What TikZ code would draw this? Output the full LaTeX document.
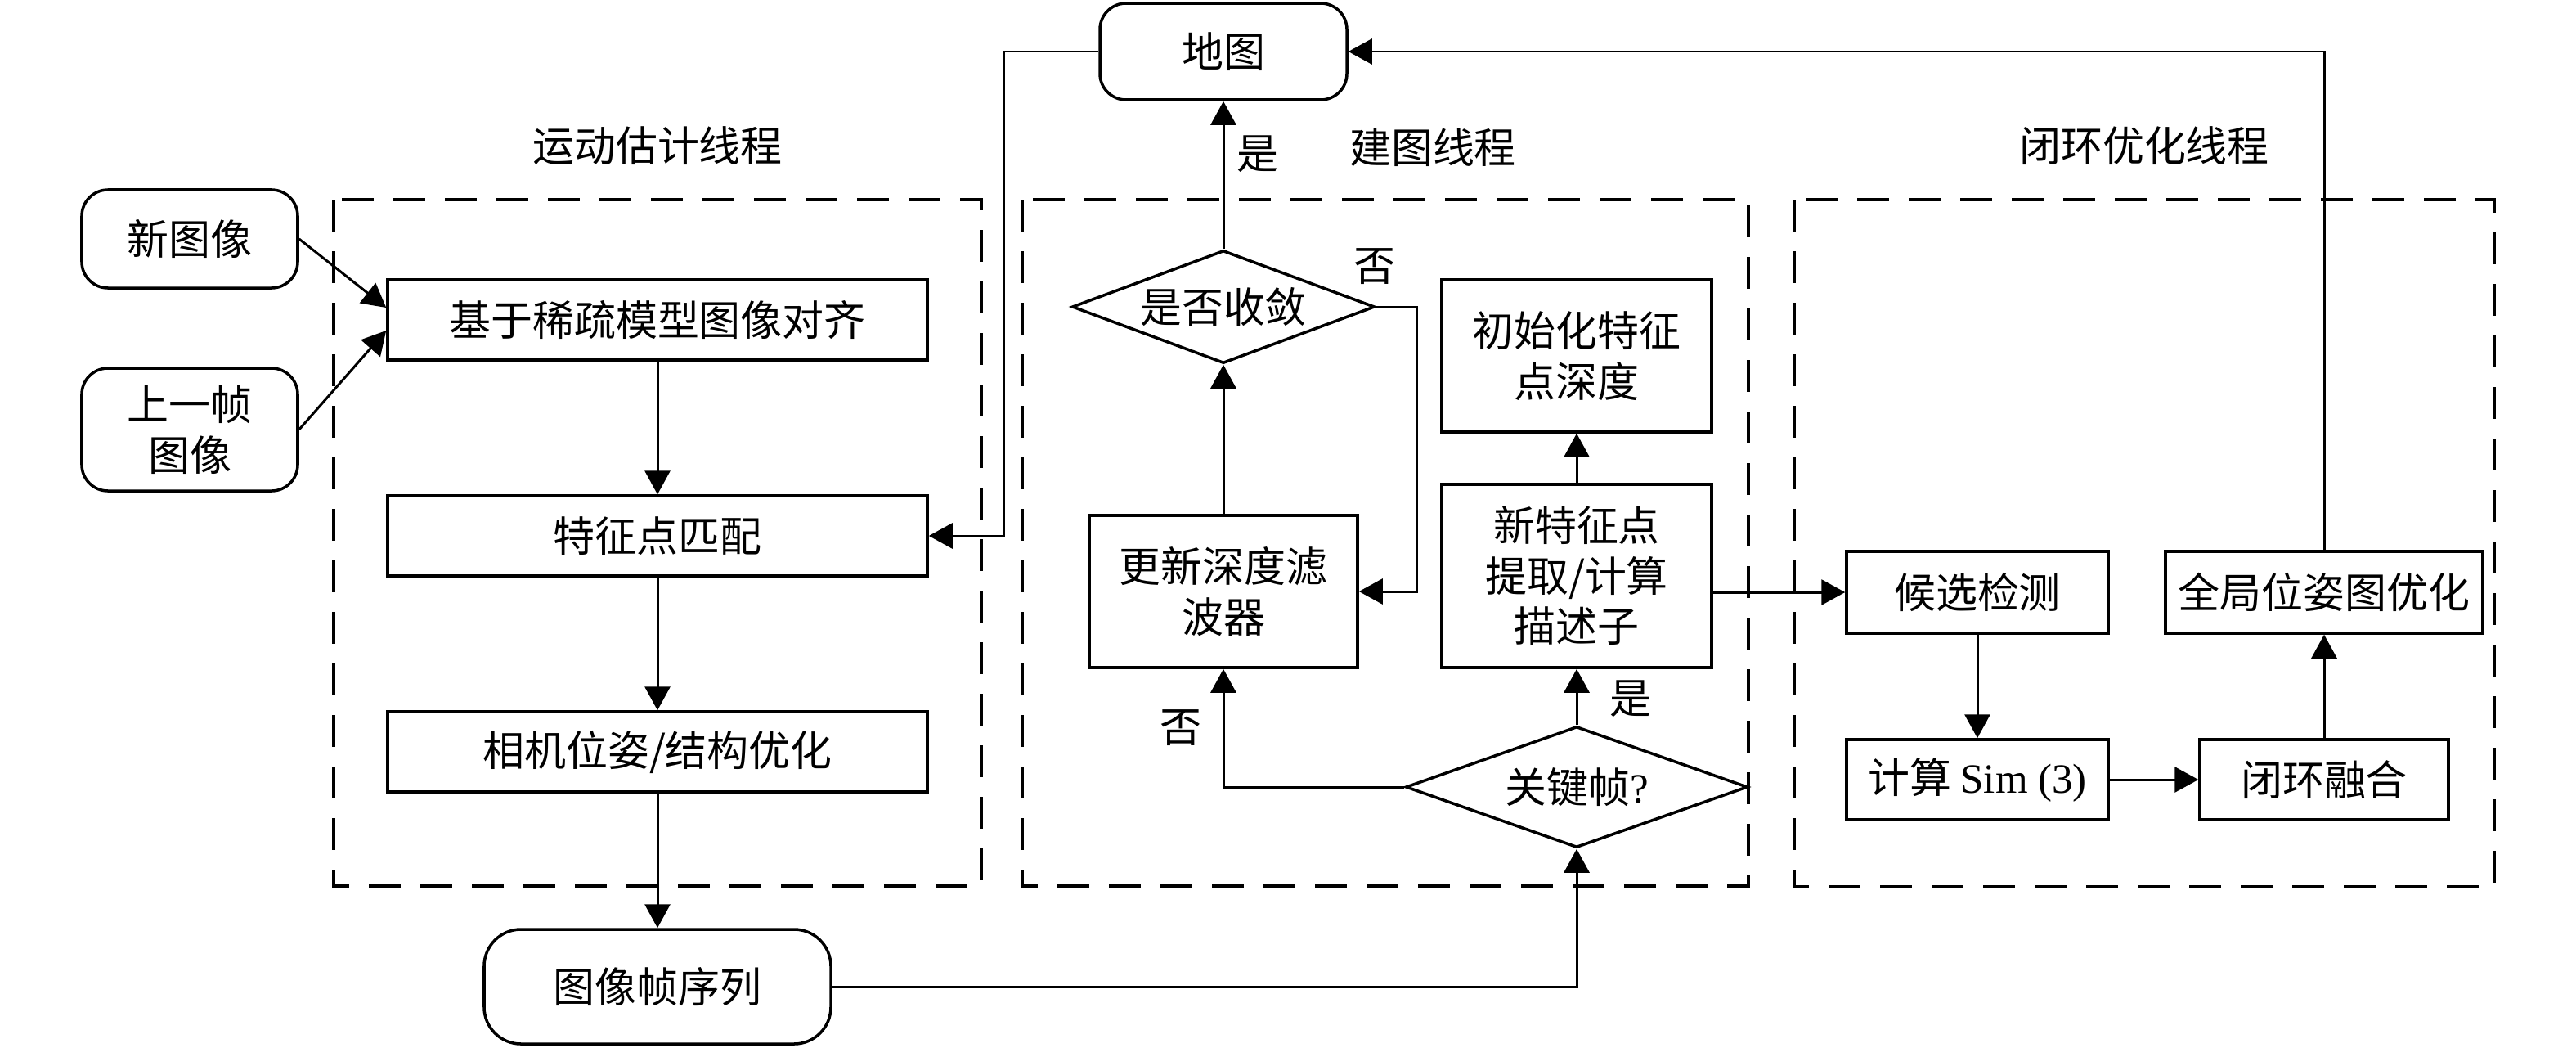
\documentclass[tikz,border=0pt]{standalone}
\usepackage{fontspec}
\setmainfont{Liberation Serif}
\newfontfamily\cjk{Noto Sans CJK SC}
\usetikzlibrary{arrows.meta,shapes.geometric,calc}
\begin{document}
\begin{tikzpicture}[x=0.2mm,y=-0.2mm,
  txt/.style={font={\cjk\fontsize{14.5pt}{17.5pt}\selectfont}, align=center, inner sep=0pt},
  box/.style={txt, draw, line width=1pt, rectangle},
  rbox/.style={box, rounded corners=3.2mm},
  dia/.style={draw, line width=1pt, diamond, inner sep=0pt},
  sz/.style 2 args={minimum width=#1*0.2mm, minimum height=#2*0.2mm},
  arr/.style={line width=0.85pt, -{Triangle[length=2.9mm,width=3.1mm]}},
  dbox/.style={line width=1pt, dash pattern=on 3.9mm off 2.4mm},
  lbl/.style={txt}
]
\useasboundingbox (0,0) rectangle (1575,640);

% thread frames
\draw[dbox] (204,122) rectangle (600,541.5);
\draw[dbox] (625,122) rectangle (1069,541.5);
\draw[dbox] (1097,122) rectangle (1525,542);

% thread titles
\node[lbl] (t1) at (402,89) {运动估计线程};
\node[lbl] (t2) at (876,90) {建图线程};
\node[lbl] (t3) at (1311,89) {闭环优化线程};

% motion estimation
\node[rbox, sz={132}{60}] (new) at (116,146) {新图像};
\node[rbox, sz={132}{75}] (prev) at (116,262.5) {上一帧\\图像};
\node[box, sz={330}{49}] (align) at (402,195.5) {基于稀疏模型图像对齐};
\node[box, sz={330}{49}] (match) at (402,327.5) {特征点匹配};
\node[box, sz={330}{49}] (cam) at (402,459.5) {相机位姿/结构优化};
\node[rbox, sz={212}{70}, rounded corners=4.5mm] (seq) at (402,603) {图像帧序列};

% mapping
\node[rbox, sz={151}{59}] (map) at (748,31.5) {地图};
\node[dia, sz={185}{69}] (conv) at (748,187.5) {};
\node[txt] (convt) at (conv.center) {是否收敛};
\node[box, sz={164}{93}] (upd) at (748,361.5) {更新深度滤\\波器};
\node[box, sz={165}{93}] (init) at (964,217.5) {初始化特征\\点深度};
\node[box, sz={165}{112}] (newf) at (964,352) {新特征点\\提取/计算\\描述子};
\node[dia, sz={209}{74}] (key) at (964,481) {};
\node[txt] (keyt) at (key.center) {关键帧{\rmfamily ?}};

% loop closing
\node[box, sz={160}{50}] (cand) at (1209,362) {候选检测};
\node[box, sz={194}{50}] (glob) at (1421,362) {全局位姿图优化};
\node[box, sz={160}{49}] (sim) at (1209,476.5) {计算 {\rmfamily Sim (3)}};
\node[box, sz={152}{49}] (fuse) at (1421,476.5) {闭环融合};

% labels
\node[lbl] (yes1) at (769,94) {是};
\node[lbl] (no1) at (840.5,163) {否};
\node[lbl] (yes2) at (997,427) {是};
\node[lbl] (no2) at (722,445) {否};

% connectors
\draw[arr] (new.east) -- ($(align.west)+(0,-7.5)$);
\draw[arr] (prev.east) -- ($(align.west)+(0,6.5)$);
\draw[arr] (align.south) -- (match.north);
\draw[arr] (match.south) -- (cam.north);
\draw[arr] (cam.south) -- (seq.north);
\draw[arr] (map.west) -- ++(-58,0) |- (match.east);
\draw[arr] (conv.north) -- (map.south);
\draw[arr] (conv.east) -- ++(25,0) |- (upd.east);
\draw[arr] (upd.north) -- (conv.south);
\draw[arr] (newf.north) -- (init.south);
\draw[arr] (key.north) -- (newf.south);
\draw[arr] (key.west) -| (upd.south);
\draw[arr] (seq.east) -| (key.south);
\draw[arr] (newf.east |- cand.west) -- (cand.west);
\draw[arr] (cand.south) -- (sim.north);
\draw[arr] (sim.east) -- (fuse.west);
\draw[arr] (fuse.north) -- (glob.south);
\draw[arr] (glob.north) |- (map.east);
\end{tikzpicture}
\end{document}
